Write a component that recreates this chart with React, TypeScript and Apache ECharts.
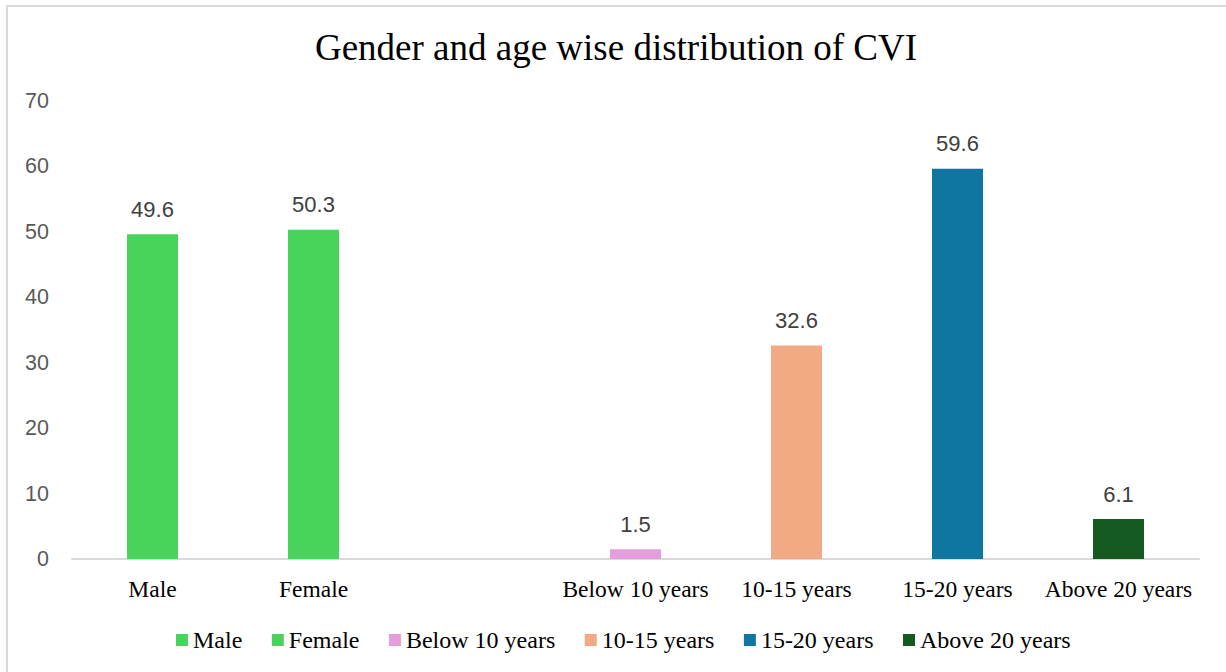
import React, { useEffect, useRef } from "react";
import * as echarts from "echarts";

const categories = ["Male", "Female", "", "Below 10 years", "10-15 years", "15-20 years", "Above 20 years"];
const seriesNames = ["Male", "Female", "Below 10 years", "10-15 years", "15-20 years", "Above 20 years"];
const seriesValues = [49.6, 50.3, 1.5, 32.6, 59.6, 6.1];
const seriesColors = ["#48D45B", "#48D45B", "#E49EDB", "#F2AA84", "#0E76A1", "#155A20"];
const yTicks = { min: 0, max: 70, interval: 10 };
const titleText = "Gender and age wise distribution of CVI";

const SERIF = "'Liberation Serif', 'Times New Roman', serif";
const SANS = "'Liberation Sans', Arial, sans-serif";

export default function App() {
  const ref = useRef<HTMLDivElement>(null);
  useEffect(() => {
    if (!ref.current) return;
    const chart = echarts.init(ref.current, undefined, { renderer: "svg" });
    const series = seriesNames.map((name, i) => {
      const data = categories.map((c) => (c === name ? seriesValues[i] : null));
      return {
        name,
        type: "bar",
        stack: "all",
        barWidth: 51,
        data,
        itemStyle: { color: seriesColors[i] },
        label: {
          show: true,
          position: "top",
          distance: 14,
          color: "#404040",
          fontFamily: SANS,
          fontSize: 22,
          formatter: (p: any) => String(p.value),
        },
      };
    });
    chart.setOption({
      animation: false,
      backgroundColor: "#ffffff",
      title: {
        text: titleText,
        left: 611,
        textAlign: "center",
        top: 24,
        textStyle: { fontFamily: SERIF, fontSize: 37, fontWeight: "normal", color: "#000000" },
      },
      graphic: [
        {
          type: "rect",
          shape: { x: 7, y: 6, width: 1240, height: 700 },
          style: { fill: "none", stroke: "#d9d9d9", lineWidth: 2 },
          silent: true,
          z: -1,
        },
      ],
      legend: {
        data: seriesNames,
        left: 171,
        top: 623,
        itemWidth: 12,
        itemHeight: 12,
        itemGap: 29.5,
        icon: "rect",
        textStyle: { fontFamily: SERIF, fontSize: 24, color: "#000000" },
      },
      grid: { left: 72, right: 27, top: 100.7, bottom: 113, containLabel: false },
      xAxis: {
        type: "category",
        data: categories,
        axisTick: { show: false },
        axisLine: { show: true, lineStyle: { color: "#d9d9d9", width: 2 } },
        axisLabel: { interval: 0, margin: 18, fontFamily: SERIF, fontSize: 23.5, color: "#000000" },
      },
      yAxis: {
        type: "value",
        min: yTicks.min,
        max: yTicks.max,
        interval: yTicks.interval,
        splitLine: { show: false },
        axisLine: { show: false },
        axisTick: { show: false },
        axisLabel: { margin: 23, fontFamily: SANS, fontSize: 21.5, color: "#595959" },
      },
      series,
    });
    return () => chart.dispose();
  }, []);
  return <div ref={ref} style={{ position: "absolute", left: 0, top: 0, width: 1226, height: 672 }} />;
}
